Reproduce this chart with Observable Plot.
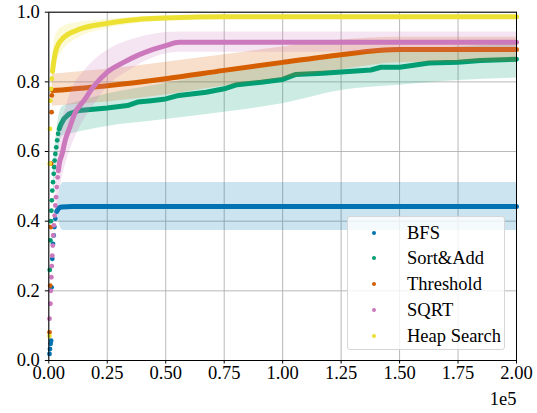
<!DOCTYPE html>
<html>
<head>
<meta charset="utf-8">
<style>
  body { margin: 0; background: #fff; font-family: 'Liberation Serif', serif; }
  #wrap { position: relative; width: 537px; height: 413px; font-family: 'Liberation Serif', serif; }
  #wrap svg text { font-family: 'Liberation Serif', serif; }
  #legend { position: absolute; left: 347px; top: 216px; width: 158px; height: 134px;
    background: rgba(255,255,255,0.8); border: 1px solid #d6d6d6; border-radius: 3px; box-sizing: border-box; }
  .row { position: absolute; left: 0; height: 20px; }
  .row .mk { position: absolute; left: 24px; width: 4px; height: 4px; border-radius: 50%; top: 8px; }
  .row .lb { position: absolute; left: 59px; top: -1px; font-size: 18.5px; line-height: 22px; white-space: nowrap; color: #000; font-family: 'Liberation Serif', serif; }
</style>
<script src="https://cdn.jsdelivr.net/npm/d3@7"></script>
<script src="https://cdn.jsdelivr.net/npm/@observablehq/plot@0.6"></script>
</head>
<body>
<div id="wrap"></div>
<script>
// x in units of 1e5
const names = ["BFS", "Sort&Add", "Threshold", "SQRT", "Heap Search"];
const colors = ["#0173b2", "#029e73", "#d55e00", "#cc78bc", "#ece133"];
const xTicks = [0, 0.25, 0.5, 0.75, 1.0, 1.25, 1.5, 1.75, 2.0];
const yTicks = [0, 0.2, 0.4, 0.6, 0.8, 1.0];

const bfsDots = [[0.003,0.019],[0.005,0.033],[0.008,0.048],[0.010,0.057],[0.012,0.21],[0.015,0.292],[0.018,0.335],[0.021,0.359],[0.024,0.383],[0.028,0.407]];
const bfsLine = [[0.034,0.428],[0.042,0.437],[0.055,0.441],[0.1,0.442],[2.0,0.442]];
const bfsBand = [[0.036,0.425,0.432],[0.046,0.392,0.488],[0.055,0.376,0.507],[0.065,0.373,0.511],[2.0,0.373,0.511]];

const sortDots = [[0.004,0.26],[0.007,0.345],[0.009,0.40],[0.011,0.43],[0.013,0.46],[0.015,0.488],[0.018,0.512],[0.021,0.536],[0.023,0.555],[0.025,0.574],[0.028,0.593],[0.032,0.612],[0.036,0.632],[0.040,0.651]];
const sortLine = [[0.045,0.665],[0.05,0.675],[0.065,0.694],[0.087,0.708],[0.13,0.718],[0.25,0.725],[0.336,0.732],[0.38,0.742],[0.438,0.746],[0.5,0.751],[0.556,0.761],[0.673,0.77],[0.75,0.78],[0.805,0.792],[0.908,0.799],[1.0,0.807],[1.054,0.821],[1.17,0.825],[1.25,0.828],[1.377,0.834],[1.42,0.842],[1.5,0.842],[1.553,0.847],[1.626,0.854],[1.75,0.856],[1.846,0.861],[2.0,0.865]];
const sortBand = [[0.02,0.46,0.56],[0.04,0.60,0.69],[0.06,0.645,0.73],[0.1,0.652,0.738],[0.25,0.672,0.765],[0.5,0.692,0.795],[0.75,0.713,0.83],[1.0,0.737,0.86],[1.25,0.775,0.875],[1.5,0.79,0.89],[1.75,0.804,0.9],[2.0,0.811,0.91]];

const thrDots = [[0.003,0.081],[0.006,0.215],[0.009,0.383],[0.010,0.565],[0.012,0.713],[0.013,0.761]];
const thrLine = [[0.016,0.775],[0.25,0.789],[0.5,0.809],[0.75,0.833],[1.0,0.856],[1.25,0.878],[1.406,0.89],[1.5,0.893],[2.0,0.893]];
const thrBand = [[0.015,0.73,0.822],[0.25,0.742,0.836],[0.5,0.762,0.856],[0.75,0.788,0.878],[1.0,0.81,0.9],[1.25,0.835,0.92],[1.5,0.855,0.928],[2.0,0.858,0.928]];

const sqrtDots = [[0.003,0.12],[0.007,0.163],[0.009,0.20],[0.011,0.239],[0.013,0.271],[0.015,0.301],[0.017,0.33],[0.019,0.359],[0.022,0.388],[0.025,0.416],[0.028,0.445],[0.031,0.469],[0.034,0.498],[0.038,0.526]];
const sqrtLine = [[0.041,0.545],[0.045,0.565],[0.057,0.593],[0.07,0.632],[0.09,0.67],[0.11,0.708],[0.15,0.746],[0.19,0.785],[0.25,0.828],[0.32,0.856],[0.38,0.876],[0.44,0.892],[0.5,0.904],[0.556,0.914],[2.0,0.914]];
const sqrtBand = [[0.03,0.40,0.52],[0.05,0.50,0.66],[0.075,0.57,0.73],[0.1,0.62,0.78],[0.15,0.69,0.83],[0.2,0.74,0.865],[0.25,0.785,0.89],[0.35,0.835,0.92],[0.45,0.87,0.937],[0.556,0.885,0.943],[2.0,0.885,0.943]];

const heapDots = [[0.003,0.07],[0.004,0.565],[0.005,0.665],[0.007,0.746],[0.010,0.78],[0.013,0.809]];
const heapLine = [[0.016,0.83],[0.02,0.852],[0.035,0.9],[0.065,0.928],[0.115,0.947],[0.25,0.968],[0.38,0.979],[0.5,0.983],[0.75,0.987],[2.0,0.987]];
const heapBand = [[0.015,0.76,0.87],[0.03,0.845,0.935],[0.06,0.89,0.958],[0.1,0.915,0.967],[0.25,0.953,0.979],[0.5,0.975,0.99],[0.75,0.983,0.991],[2.0,0.983,0.991]];

const series = [
  {dots: bfsDots, line: bfsLine, band: bfsBand, curve: "monotone-x"},
  {dots: sortDots, line: sortLine, band: sortBand, curve: "linear"},
  {dots: thrDots, line: thrLine, band: thrBand, curve: "monotone-x"},
  {dots: sqrtDots, line: sqrtLine, band: sqrtBand, curve: "monotone-x"},
  {dots: heapDots, line: heapLine, band: heapBand, curve: "monotone-x"}
];

const FONT = "'Liberation Serif', serif";

const marks = [
  Plot.gridX(xTicks, {stroke: "#b0b0b0", strokeOpacity: 1, strokeWidth: 0.9}),
  Plot.gridY(yTicks, {stroke: "#b0b0b0", strokeOpacity: 1, strokeWidth: 0.9})
];
series.forEach((s, i) => {
  marks.push(Plot.areaY(s.band, {x: d => d[0], y1: d => d[1], y2: d => d[2], fill: colors[i], fillOpacity: 0.2, curve: "monotone-x"}));
  marks.push(Plot.line(s.line, {x: d => d[0], y: d => d[1], stroke: colors[i], strokeWidth: 5, curve: s.curve, strokeLinecap: "round", strokeLinejoin: "round"}));
  marks.push(Plot.dot(s.dots, {x: d => d[0], y: d => d[1], r: 2.4, fill: colors[i], stroke: "none"}));
});
marks.push(Plot.frame({stroke: "black", strokeWidth: 1}));
marks.push(Plot.axisX(xTicks, {tickSize: 3.5, tickPadding: 1.5, tickFormat: d3.format(".2f"), fontSize: 18.5, fontFamily: FONT, label: null}));
marks.push(Plot.axisY(yTicks, {tickSize: 3.5, tickPadding: 5.5, tickFormat: d3.format(".1f"), fontSize: 18.5, fontFamily: FONT, label: null}));
marks.push(Plot.text(["1e5"], {frameAnchor: "bottom-right", textAnchor: "end", lineAnchor: "middle", dy: 39, fontSize: 18.5, fontFamily: FONT, fill: "black"}));

const chart = Plot.plot({
  width: 537,
  height: 413,
  marginLeft: 48.3,
  marginRight: 21,
  marginTop: 11.7,
  marginBottom: 53,
  x: {domain: [0, 2]},
  y: {domain: [0, 1]},
  style: {fontFamily: FONT, fontSize: "18.5px", color: "black", background: "white", overflow: "visible"},
  marks
});
const wrap = document.getElementById("wrap");
wrap.appendChild(chart);

const legend = document.createElement("div");
legend.id = "legend";
names.forEach((n, i) => {
  const row = document.createElement("div");
  row.className = "row";
  row.style.top = (5.5 + 25.8 * i) + "px";
  const mk = document.createElement("div");
  mk.className = "mk";
  mk.style.background = colors[i];
  const lb = document.createElement("div");
  lb.className = "lb";
  lb.textContent = n;
  row.appendChild(mk);
  row.appendChild(lb);
  legend.appendChild(row);
});
wrap.appendChild(legend);
</script>
</body>
</html>
